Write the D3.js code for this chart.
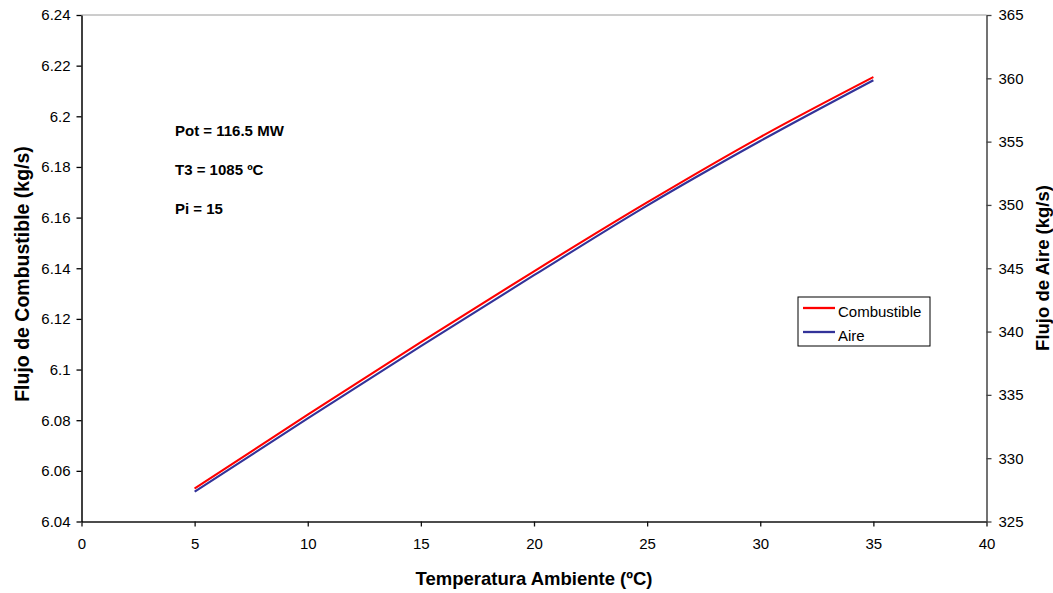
<!DOCTYPE html>
<html>
<head>
<meta charset="utf-8">
<script src="https://cdn.jsdelivr.net/npm/d3@7"></script>
<style>
  html, body { margin: 0; padding: 0; background: #fff; }
  svg { display: block; font-family: "Liberation Sans", Arial, sans-serif; }
</style>
</head>
<body>
<svg id="chart" width="1053" height="593"></svg>
<script>
// Ambient temperature (ºC) and the resulting mass flows
const temperatura = [5, 10, 15, 20, 25, 30, 35];
const combustible = [6.053, 6.0822, 6.1108, 6.1388, 6.1660, 6.1918, 6.2155]; // kg/s, left axis
const aire = [327.35, 333.15, 338.85, 344.45, 349.95, 355.05, 359.85];       // kg/s, right axis

const xTicks = [0, 5, 10, 15, 20, 25, 30, 35, 40];
const yLeftTicks = [6.04, 6.06, 6.08, 6.1, 6.12, 6.14, 6.16, 6.18, 6.2, 6.22, 6.24];
const yRightTicks = [325, 330, 335, 340, 345, 350, 355, 360, 365];

const annotations = ["Pot = 116.5 MW", "T3 = 1085 ºC", "Pi = 15"];
const seriesNames = ["Combustible", "Aire"];
const seriesColors = ["#ff0000", "#333399"];

const svg = d3.select("#chart");
const plot = { left: 81.5, right: 986.5, top: 15, bottom: 521.5 };

const x = d3.scaleLinear().domain([0, 40]).range([plot.left, plot.right]);
const yL = d3.scaleLinear().domain([6.04, 6.24]).range([plot.bottom, plot.top]);
const yR = d3.scaleLinear().domain([325, 365]).range([plot.bottom, plot.top]);

// top border of the plot area
svg.append("line")
  .attr("x1", plot.left).attr("x2", plot.right)
  .attr("y1", plot.top).attr("y2", plot.top)
  .attr("stroke", "#9a9a9a").attr("stroke-width", 1);

const tickFont = 15;

// bottom axis
const gx = svg.append("g")
  .attr("transform", `translate(0,${plot.bottom})`)
  .call(d3.axisBottom(x).tickValues(xTicks).tickFormat(d3.format("d")).tickSizeInner(5).tickSizeOuter(0).tickPadding(12));
// left axis
const gl = svg.append("g")
  .attr("transform", `translate(${plot.left},0)`)
  .call(d3.axisLeft(yL).tickValues(yLeftTicks).tickFormat(d => String(+d.toFixed(2))).tickSizeInner(5).tickSizeOuter(0).tickPadding(6));
// right axis
const gr = svg.append("g")
  .attr("transform", `translate(${plot.right},0)`)
  .call(d3.axisRight(yR).tickValues(yRightTicks).tickFormat(d3.format("d")).tickSizeInner(5).tickSizeOuter(0).tickPadding(7));

[gx, gl, gr].forEach(g => {
  g.selectAll("text").attr("font-size", tickFont).attr("fill", "#000")
    .attr("font-family", "'Liberation Sans', Arial, sans-serif");
  g.selectAll("line").attr("stroke-width", 1.3);
  g.select(".domain").attr("stroke-width", 1.5);
});
gx.selectAll("line, .domain").attr("stroke", "#111");
gl.selectAll("line, .domain").attr("stroke", "#000");
gr.selectAll("line, .domain").attr("stroke", "#444");

// series lines
const lineL = d3.line().x((d, i) => x(temperatura[i])).y(d => yL(d)).curve(d3.curveMonotoneX);
const lineR = d3.line().x((d, i) => x(temperatura[i])).y(d => yR(d)).curve(d3.curveMonotoneX);

svg.append("path").datum(aire)
  .attr("d", lineR).attr("fill", "none")
  .attr("stroke", seriesColors[1]).attr("stroke-width", 2.1);
svg.append("path").datum(combustible)
  .attr("d", lineL).attr("fill", "none")
  .attr("stroke", seriesColors[0]).attr("stroke-width", 2.1);

// operating-point notes
svg.append("g").selectAll("text").data(annotations).join("text")
  .attr("x", 175).attr("y", (d, i) => 136 + i * 39)
  .attr("font-size", 15).attr("font-weight", "bold").text(d => d);

// axis titles
svg.append("text")
  .attr("x", (plot.left + plot.right) / 2).attr("y", 585)
  .attr("text-anchor", "middle").attr("font-size", 18.5).attr("font-weight", "bold")
  .text("Temperatura Ambiente (ºC)");
svg.append("text")
  .attr("transform", "translate(22,274) rotate(-90)")
  .attr("dy", "0.35em")
  .attr("text-anchor", "middle").attr("font-size", 19.5).attr("font-weight", "bold")
  .text("Flujo de Combustible (kg/s)");
svg.append("text")
  .attr("transform", "translate(1043,268) rotate(-90)")
  .attr("dy", "0.35em")
  .attr("text-anchor", "middle").attr("font-size", 18.5).attr("font-weight", "bold")
  .text("Flujo de Aire (kg/s)");

// legend
const leg = svg.append("g").attr("transform", "translate(798,297)");
leg.append("rect").attr("width", 132).attr("height", 49)
  .attr("fill", "#fff").attr("stroke", "#000").attr("stroke-width", 1);
seriesNames.forEach((name, i) => {
  const cy = 11 + i * 24;
  leg.append("line").attr("x1", 5).attr("x2", 37).attr("y1", cy).attr("y2", cy)
    .attr("stroke", seriesColors[i]).attr("stroke-width", 2.3);
  leg.append("text").attr("x", 40).attr("y", cy + 9)
    .attr("font-size", 15).text(name);
});
</script>
</body>
</html>
